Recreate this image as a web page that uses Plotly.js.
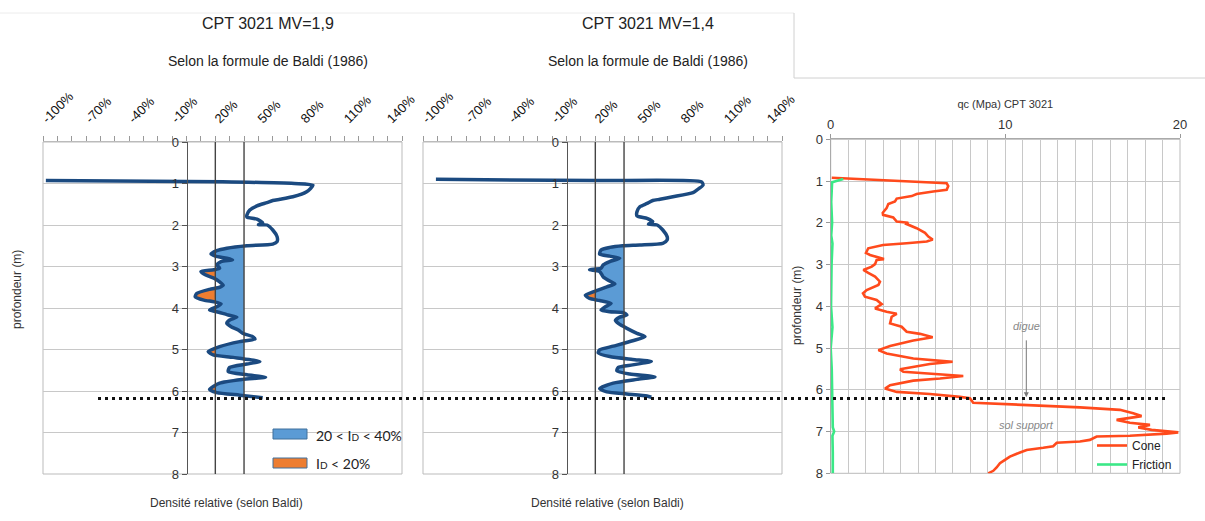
<!DOCTYPE html>
<html><head><meta charset="utf-8">
<script src="https://cdn.plot.ly/plotly-3.0.1.min.js"></script>
<style>html,body{margin:0;padding:0;background:#fff}#chart{width:1205px;height:521px}</style>
</head><body><div id="chart"></div>
<script>
// ---------- DATA ----------
// Panel 1 : CPT 3021 MV=1,9  (relative density %, Baldi)
const depth1 = [0.93,0.96,1.0,1.04,1.2,1.32,1.38,1.41,1.46,1.54,1.64,1.76,1.81,1.86,1.95,1.99,2.0,2.12,2.28,2.4,2.46,2.5,2.56,2.62,2.7,2.75,2.8,2.84,2.88,2.96,3.04,3.08,3.12,3.2,3.28,3.37,3.45,3.5,3.55,3.65,3.73,3.81,3.85,3.9,3.97,4.05,4.09,4.17,4.22,4.29,4.37,4.45,4.53,4.61,4.69,4.75,4.81,4.93,5.05,5.13,5.19,5.29,5.35,5.43,5.53,5.61,5.67,5.72,5.81,5.96,6.04,6.1,6.16];
const dr1    = [-98,25,75,88,83.6,74,65,60,56,49,44,42,42,49,53,50,56,60,63,63,60,42,28,21,17,20,28,32,24,21,23,19,10,13,19,23,25.5,23,16,7,6,12,19,24,21,16,21,29,35,30,28,31,36,39,46,47.6,37,23,15,18.5,32.5,51,42,30,29,42,55,39,23,16,21,37,53];
// Panel 2 : CPT 3021 MV=1,4
const depth2 = [0.9,0.93,0.96,1.04,1.16,1.22,1.32,1.38,1.41,1.48,1.56,1.68,1.78,1.84,1.92,1.98,2.0,2.12,2.28,2.36,2.44,2.48,2.5,2.54,2.6,2.7,2.75,2.8,2.88,2.96,3.04,3.08,3.12,3.25,3.37,3.42,3.49,3.61,3.69,3.77,3.82,3.89,3.97,4.05,4.09,4.11,4.17,4.22,4.3,4.37,4.49,4.61,4.69,4.79,4.92,5.01,5.08,5.17,5.24,5.29,5.37,5.43,5.51,5.59,5.66,5.72,5.81,5.94,6.02,6.07,6.12,6.15];
const dr2    = [-91,21,94,95,90.6,88,74,65,60,56,51,49,49,56,60,57,63,67,70,70,67,51,39,30,24,23,30,37,30,25.5,24,16,23,25.5,31,33.7,28,18.5,13,16,23,31,27,24,30,39.5,42,37,34,36,42,49,54.6,46,32.5,23,22,30,46,59,46,36,35,44,61.5,49,32.5,23,28,42,56,59];
// Top axis ticks of the density panels
const drTickVals   = [-100,-70,-40,-10,20,50,80,110,140];
const drTickLabels = ['-100%','-70%','-40%','-10%','20%','50%','80%','110%','140%'];
// Density classes (ID limits, %)
const classLimits = [20, 40];
const classNames = ["20 &lt; I<span style='font-size:10px'>D</span> &lt; 40%", "I<span style='font-size:10px'>D</span> &lt; 20%"];
const fillFromDepth = 2.0;
// Panel 3 : qc (MPa) CPT 3021
const depthCone = [0.92,1.05,1.12,1.21,1.25,1.31,1.36,1.42,1.49,1.55,1.65,1.76,1.81,1.87,1.97,2.0,2.03,2.13,2.24,2.33,2.4,2.45,2.49,2.53,2.61,2.72,2.77,2.83,2.87,2.89,2.99,3.05,3.13,3.2,3.29,3.41,3.49,3.61,3.69,3.77,3.85,3.95,4.05,4.13,4.18,4.25,4.41,4.49,4.61,4.66,4.74,4.82,4.95,5.05,5.13,5.25,5.33,5.38,5.51,5.57,5.62,5.67,5.73,5.78,5.89,5.97,6.05,6.1,6.17,6.2,6.31,6.36,6.42,6.48,6.52,6.56,6.63,6.69,6.72,6.79,6.84,6.9,6.96,7.02,7.05,7.1,7.12,7.2,7.24,7.27,7.35,7.39,7.44,7.5,7.6,7.68,7.76,7.86,7.94,8.0];
const cone      = [0.06,6.64,6.73,6.64,5.87,4.92,4.64,3.78,3.68,3.3,3.2,2.98,3.0,3.58,3.78,4.44,4.35,4.92,5.4,5.59,5.84,5.5,4.35,3.0,2.15,2.02,2.25,2.82,3.05,2.63,2.54,2.35,1.87,2.15,2.54,2.82,2.73,2.06,1.85,1.96,2.63,2.92,2.54,3.2,3.78,3.49,3.4,4.06,4.35,5.11,5.84,4.73,3.4,2.73,3.2,4.73,6.98,5.68,3.97,4.16,5.68,7.59,6.26,4.73,3.4,3.11,3.78,5.68,7.4,7.97,8.16,11.4,14.27,16.56,17.04,17.32,17.8,16.94,16.37,17.13,18.28,17.61,18.37,19.9,19.23,17.13,15.23,14.84,14.27,12.94,12.74,12.17,11.22,10.84,10.26,9.98,9.69,9.5,9.31,9.02];
const depthFric = [0.95,1.03,1.5,2.0,2.3,2.5,3.0,3.5,4.0,4.5,5.0,5.5,6.0,6.5,6.9,7.0,7.1,7.5,8.0];
const friction  = [0.72,0.08,0.03,0.08,0.03,0.1,0.05,0.04,0.02,0.1,0.0,0.06,0.08,0.1,0.12,0.2,0.1,0.12,0.12];
const digueBase = 6.18;      // limite digue / sol support (m)
const labelQc = 11.2;        // position of labels in qc axis
const digueLabelDepth = 4.46, arrowStartDepth = 4.78, solLabelDepth = 6.84;

// ---------- HELPERS ----------
const W = 1205, H = 521;
const px = v => v / W, py = v => 1 - v / H;
const xr = [-100, 150];
const dom1 = [px(43), px(402)], dom2 = [px(423), px(782)], dom3 = [px(830.7), px(1180)];
const ydomLR = [py(474), py(142)], ydom3 = [py(473.3), py(139.3)];
const zeroPos = d => d[0] + (0 - xr[0]) / (xr[1] - xr[0]) * (d[1] - d[0]);

function clipSeries(depth, vals, thr, fromDepth) {
  const ys = [], xs = [];
  for (let i = 0; i < depth.length; i++) {
    if (depth[i] < fromDepth) continue;
    if (i > 0 && depth[i - 1] >= fromDepth) {
      const a = vals[i - 1] - thr, b = vals[i] - thr;
      if (a * b < 0) { const t = a / (a - b); ys.push(depth[i - 1] + t * (depth[i] - depth[i - 1])); xs.push(thr); }
    }
    ys.push(depth[i]); xs.push(Math.min(vals[i], thr));
  }
  return { x: xs, y: ys };
}
const blue = '#5b9bd5', orange = '#ed7d31', dark = '#1b4a80';
function panelTraces(depth, vals, xa, ya) {
  const out = [];
  [[classLimits[1], blue], [classLimits[0], orange]].forEach(([thr, col]) => {
    const c = clipSeries(depth, vals, thr, fillFromDepth);
    out.push({ x: c.y.map(() => thr), y: c.y, xaxis: xa, yaxis: ya, mode: 'lines', line: { width: 0, color: col }, showlegend: false, hoverinfo: 'skip' });
    out.push({ x: c.x, y: c.y, xaxis: xa, yaxis: ya, mode: 'lines', fill: 'tonextx', fillcolor: col, line: { width: 0, color: col }, showlegend: false, hoverinfo: 'skip' });
  });
  out.push({ x: vals, y: depth, xaxis: xa, yaxis: ya, mode: 'lines', line: { color: dark, width: 3.5, shape: 'spline', smoothing: 0.6 }, showlegend: false });
  return out;
}

const traces = [
  ...panelTraces(depth1, dr1, 'x', 'y'),
  ...panelTraces(depth2, dr2, 'x2', 'y2'),
  { x: cone, y: depthCone, xaxis: 'x3', yaxis: 'y3', mode: 'lines', name: 'Cone', line: { color: '#ff4a1c', width: 2.6 } },
  { x: friction, y: depthFric, xaxis: 'x3', yaxis: 'y3', mode: 'lines', name: 'Friction', line: { color: '#3be887', width: 2.6 } }
];

const font = 'Arial, "Liberation Sans", sans-serif';
const tickColor = '#999', gridColor = '#c8c8c8';
function leftX(dom) {
  return { domain: dom, range: xr, side: 'top', tickmode: 'array', tickvals: drTickVals, ticktext: drTickLabels, tickangle: -45,
    ticks: 'outside', ticklen: 5, tickcolor: tickColor, showline: true, linecolor: '#bbb', showgrid: false, zeroline: false,
    minor: { tick0: -100, dtick: 10, ticks: 'outside', ticklen: 5, tickcolor: tickColor },
    tickfont: { size: 13, color: '#111' }, ticklabelstandoff: 5, fixedrange: true };
}
function leftY(dom, xdom) {
  return { domain: ydomLR, range: [8, 0], dtick: 1, anchor: 'free', position: zeroPos(xdom),
    showline: true, linecolor: '#555', linewidth: 1.5, ticks: 'outside', ticklen: 5, tickcolor: '#555',
    showgrid: true, gridcolor: gridColor, zeroline: false, tickfont: { size: 13, color: '#333' }, fixedrange: true };
}

const shapes = [];
[['x', 'y'], ['x2', 'y2']].forEach(([xa, ya]) => {
  shapes.push({ type: 'rect', xref: xa + ' domain', yref: ya + ' domain', x0: 0, x1: 1, y0: 0, y1: 1, line: { color: '#bbb', width: 1 }, layer: 'below' });
  classLimits.forEach(l => shapes.push({ type: 'line', xref: xa, yref: ya + ' domain', x0: l, x1: l, y0: 0, y1: 1, line: { color: '#444', width: 1.4 } }));
});
shapes.push({ type: 'rect', xref: 'x3 domain', yref: 'y3 domain', x0: 0, x1: 1, y0: 0, y1: 1, line: { color: '#bbb', width: 1 }, layer: 'below' });
// dotted boundary
shapes.push({ type: 'line', xref: 'paper', yref: 'y', x0: px(98), x1: px(1167), y0: digueBase, y1: digueBase, line: { color: '#111', width: 3, dash: '3px,4px' } });
// legend patches (left panel)
shapes.push({ type: 'rect', xref: 'paper', yref: 'paper', x0: px(273), x1: px(307), y0: py(439), y1: py(429), fillcolor: blue, line: { color: '#41719c', width: 1 } });
shapes.push({ type: 'rect', xref: 'paper', yref: 'paper', x0: px(273), x1: px(307), y0: py(468), y1: py(458), fillcolor: orange, line: { color: '#41719c', width: 1 } });
// frame remnants
shapes.push({ type: 'line', xref: 'paper', yref: 'paper', x0: 0, x1: px(794), y0: py(13), y1: py(13), line: { color: '#ececec', width: 1 } });
shapes.push({ type: 'line', xref: 'paper', yref: 'paper', x0: px(794), x1: px(794), y0: py(13), y1: py(78), line: { color: '#d0d0d0', width: 1 } });
shapes.push({ type: 'line', xref: 'paper', yref: 'paper', x0: px(794), x1: 1, y0: py(78), y1: py(78), line: { color: '#d0d0d0', width: 1 } });

const ann = (text, x, y, o = {}) => Object.assign({ text, x, y, xref: 'paper', yref: 'paper', xanchor: 'center', yanchor: 'middle', showarrow: false, font: { family: font, size: 12, color: '#333' } }, o);
const legFont = { family: 'Lato, "Open Sans", sans-serif', size: 14, color: '#222' };
const annotations = [
  ann('CPT 3021 MV=1,9', px(268), py(23), { font: { family: font, size: 16, color: '#222' } }),
  ann('Selon la formule de Baldi (1986)', px(268), py(61), { font: { family: font, size: 14, color: '#222' } }),
  ann('CPT 3021 MV=1,4', px(648), py(23), { font: { family: font, size: 16, color: '#222' } }),
  ann('Selon la formule de Baldi (1986)', px(648), py(61), { font: { family: font, size: 14, color: '#222' } }),
  ann('Densité relative (selon Baldi)', px(226), py(503), { font: { family: font, size: 12, color: '#333' } }),
  ann('Densité relative (selon Baldi)', px(607), py(503), { font: { family: font, size: 12, color: '#333' } }),
  ann('profondeur (m)', px(17), py(290), { textangle: -90, font: { family: font, size: 12, color: '#333' } }),
  ann('profondeur (m)', px(797), py(306), { textangle: -90, font: { family: font, size: 12, color: '#333' } }),
  ann(classNames[0], px(314), py(435), { xanchor: 'left', font: legFont }),
  ann(classNames[1], px(314), py(463), { xanchor: 'left', font: legFont }),
  { text: 'digue', x: labelQc, y: digueLabelDepth, xref: 'x3', yref: 'y3', showarrow: false, font: { family: font, size: 11, color: '#888', style: 'italic' } },
  { text: 'sol support', x: labelQc, y: solLabelDepth, xref: 'x3', yref: 'y3', showarrow: false, font: { family: font, size: 11, color: '#888', style: 'italic' } },
  { text: '', x: labelQc, y: digueBase, xref: 'x3', yref: 'y3', ax: labelQc, ay: arrowStartDepth, axref: 'x3', ayref: 'y3', showarrow: true, arrowhead: 2, arrowsize: 1, arrowwidth: 1, arrowcolor: '#777' }
];

const layout = {
  width: W, height: H, margin: { l: 0, r: 0, t: 0, b: 0 }, paper_bgcolor: '#fff', plot_bgcolor: 'rgba(0,0,0,0)',
  font: { family: font, color: '#333' },
  xaxis: Object.assign(leftX(dom1), { anchor: 'y' }), yaxis: leftY(ydomLR, dom1),
  xaxis2: Object.assign(leftX(dom2), { anchor: 'y2' }), yaxis2: leftY(ydomLR, dom2),
  xaxis3: { domain: dom3, anchor: 'y3', range: [0, 20], side: 'top', dtick: 10, ticks: 'outside', ticklen: 4, tickcolor: tickColor,
    showline: true, linecolor: '#aaa', showgrid: true, gridcolor: gridColor, zeroline: false,
    minor: { dtick: 1, showgrid: true, gridcolor: gridColor }, tickfont: { size: 13, color: '#333' },
    title: { text: 'qc (Mpa) CPT 3021', font: { size: 11, color: '#333' }, standoff: 6 }, fixedrange: true },
  yaxis3: { domain: ydom3, anchor: 'x3', range: [8, 0], dtick: 1, showline: true, linecolor: '#aaa', ticks: 'outside', ticklen: 4, tickcolor: tickColor,
    showgrid: true, gridcolor: gridColor, zeroline: false, tickfont: { size: 13, color: '#333' }, fixedrange: true },
  showlegend: true,
  legend: { x: px(1092), y: py(431), xanchor: 'left', yanchor: 'top', traceorder: 'normal', bgcolor: 'rgba(0,0,0,0)', font: { size: 12, color: '#222' }, tracegroupgap: 0 },
  shapes, annotations
};
Plotly.newPlot('chart', traces, layout, { displayModeBar: false, staticPlot: true });
</script>
</body></html>
